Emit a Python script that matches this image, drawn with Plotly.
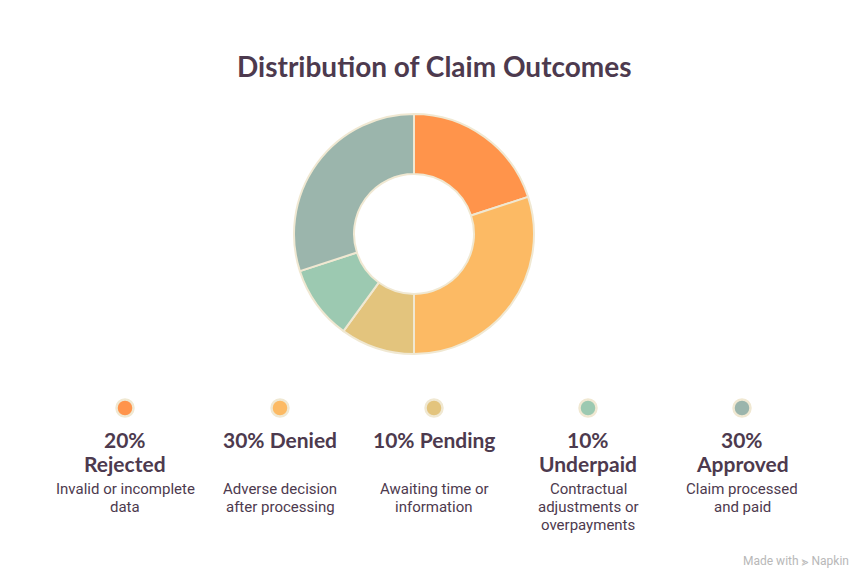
import plotly.graph_objects as go

categories = ["Rejected", "Denied", "Pending", "Underpaid", "Approved"]
values = [20, 30, 10, 10, 30]
colors = ["#FF944B", "#FCBA64", "#E3C47D", "#9CC9B1", "#9BB5AC"]
headings = [["20%", "Rejected"], ["30% Denied"], ["10% Pending"], ["10%", "Underpaid"], ["30%", "Approved"]]
descriptions = [["Invalid or incomplete", "data"], ["Adverse decision", "after processing"],
                ["Awaiting time or", "information"], ["Contractual", "adjustments or", "overpayments"],
                ["Claim processed", "and paid"]]
col_x = [125, 280, 434, 588, 742]

W, H = 868, 582
OFF = 8  # page body margin
cx, cy, r = 414, 234, 120

fig = go.Figure()
fig.add_trace(go.Pie(
    labels=categories, values=values, hole=0.5, sort=False, direction="clockwise",
    rotation=0, marker=dict(colors=colors, line=dict(color="#F0E8D2", width=2)),
    textinfo="none", hoverinfo="label+percent", showlegend=False,
    domain=dict(x=[(cx - r - OFF) / W, (cx + r - OFF) / W],
                y=[1 - (cy + r - OFF) / H, 1 - (cy - r - OFF) / H]),
))

fig.add_trace(go.Scatter(
    x=col_x, y=[408] * 5, mode="markers",
    marker=dict(size=17, color=colors, line=dict(color="#F0E8D2", width=2.5)),
    hoverinfo="skip", showlegend=False, xaxis="x", yaxis="y",
))

ann = [dict(x=434, y=66, text="<b>Distribution of Claim Outcomes</b>", showarrow=False,
            xref="x", yref="y", font=dict(family="Lato", size=28, color="#4D3A4E"))]
for x, hs, ds in zip(col_x, headings, descriptions):
    for i, h in enumerate(hs):
        ann.append(dict(x=x, y=439 + 24 * i, text="<b>" + h + "</b>", showarrow=False,
                        xref="x", yref="y", yanchor="middle",
                        font=dict(family="Lato", size=21, color="#4D3A4E")))
    for i, d in enumerate(ds):
        ann.append(dict(x=x, y=489 + 18 * i, text=d, showarrow=False, xref="x", yref="y",
                        yanchor="middle", font=dict(family="Roboto", size=15, color="#4D3A4E")))
ann.append(dict(x=851, y=561, text="Made with ⪢ Napkin", showarrow=False, xref="x", yref="y",
                xanchor="right", font=dict(family="Roboto", size=12, color="#B8B8B8")))

fig.update_layout(
    width=W, height=H, margin=dict(l=0, r=0, t=0, b=0),
    paper_bgcolor="white", plot_bgcolor="rgba(0,0,0,0)",
    xaxis=dict(range=[OFF, W + OFF], visible=False, fixedrange=True),
    yaxis=dict(range=[H + OFF, OFF], visible=False, fixedrange=True),
    annotations=ann,
)
fig.write_html("out.html")
